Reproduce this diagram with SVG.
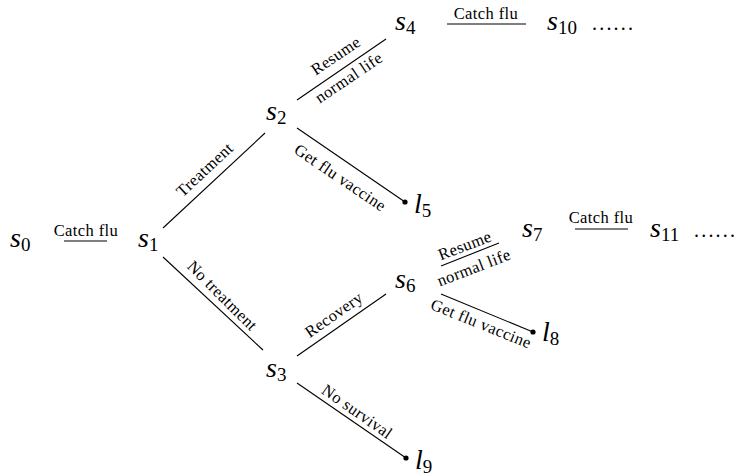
<svg xmlns="http://www.w3.org/2000/svg" width="736" height="476" viewBox="0 0 736 476">
<style>
.m{font-family:"Liberation Serif","DejaVu Serif",serif;font-style:italic;font-size:28px;fill:#000}
.sub{font-style:normal;font-size:19px}
.lb{font-family:"Liberation Serif","DejaVu Serif",serif;font-size:16.5px;letter-spacing:0.4px;fill:#000;text-anchor:middle}
.dots{font-family:"Liberation Serif",serif;font-size:20px;letter-spacing:2.2px;fill:#000}
line{stroke:#000;stroke-width:1.1}
</style>
<rect width="736" height="476" fill="#fff"/>
<g id="connectors">
<line x1="64" y1="241" x2="107" y2="241"/>
<line x1="163" y1="228" x2="265" y2="133"/>
<line x1="163" y1="257" x2="263" y2="350"/>
<line x1="297" y1="100" x2="386" y2="39"/>
<line x1="297" y1="128" x2="405" y2="202"/>
<line x1="447" y1="24" x2="526" y2="24"/>
<line x1="297" y1="356" x2="386" y2="294"/>
<line x1="297" y1="383" x2="406" y2="458"/>
<line x1="441" y1="266" x2="499" y2="243"/>
<line x1="441" y1="294" x2="533" y2="332"/>
<line x1="575" y1="229" x2="628" y2="229"/>
<circle cx="405" cy="202" r="2.6"/>
<circle cx="533" cy="332" r="2.6"/>
<circle cx="406" cy="458" r="2.6"/>
<text class="lb" x="86" y="236">Catch flu</text>
<text class="lb" x="486" y="19">Catch flu</text>
<text class="lb" x="601" y="223">Catch flu</text>
<text class="lb" transform="translate(205,170) rotate(-43)" dy="5">Treatment</text>
<text class="lb" transform="translate(222,296) rotate(45)" dy="5">No treatment</text>
<text class="lb" transform="translate(336,56) rotate(-34)" dy="5">Resume</text>
<text class="lb" transform="translate(349,78) rotate(-34)" dy="5">normal life</text>
<text class="lb" transform="translate(340,178) rotate(34)" dy="5">Get flu vaccine</text>
<text class="lb" transform="translate(334,315) rotate(-35)" dy="5">Recovery</text>
<text class="lb" transform="translate(357,412) rotate(35)" dy="5">No survival</text>
<text class="lb" transform="translate(465,246) rotate(-21)" dy="5">Resume</text>
<text class="lb" transform="translate(474,268) rotate(-21)" dy="5">normal life</text>
<text class="lb" transform="translate(481,324) rotate(22)" dy="5">Get flu vaccine</text>
</g>
<g id="s0"><text class="m" x="10" y="247">s<tspan class="sub" dy="4">0</tspan></text></g>
<g id="s1"><text class="m" x="138" y="247">s<tspan class="sub" dy="4">1</tspan></text></g>
<g id="s2"><text class="m" x="266" y="120">s<tspan class="sub" dy="4">2</tspan></text></g>
<g id="s3"><text class="m" x="266" y="377">s<tspan class="sub" dy="4">3</tspan></text></g>
<g id="s4"><text class="m" x="395" y="30">s<tspan class="sub" dy="4">4</tspan></text></g>
<g id="s6"><text class="m" x="395" y="288">s<tspan class="sub" dy="4">6</tspan></text></g>
<g id="s7"><text class="m" x="522" y="237">s<tspan class="sub" dy="4">7</tspan></text></g>
<g id="s10"><text class="m" x="547" y="30">s<tspan class="sub" dy="4">10</tspan></text><text class="dots" x="592" y="30">......</text></g>
<g id="s11"><text class="m" x="650" y="237">s<tspan class="sub" dy="4">11</tspan></text><text class="dots" x="694" y="237">......</text></g>
<g id="l5"><text class="m" x="414" y="213">l<tspan class="sub" dy="4">5</tspan></text></g>
<g id="l8"><text class="m" x="542" y="341">l<tspan class="sub" dy="4">8</tspan></text></g>
<g id="l9"><text class="m" x="415" y="469">l<tspan class="sub" dy="4">9</tspan></text></g>
</svg>
